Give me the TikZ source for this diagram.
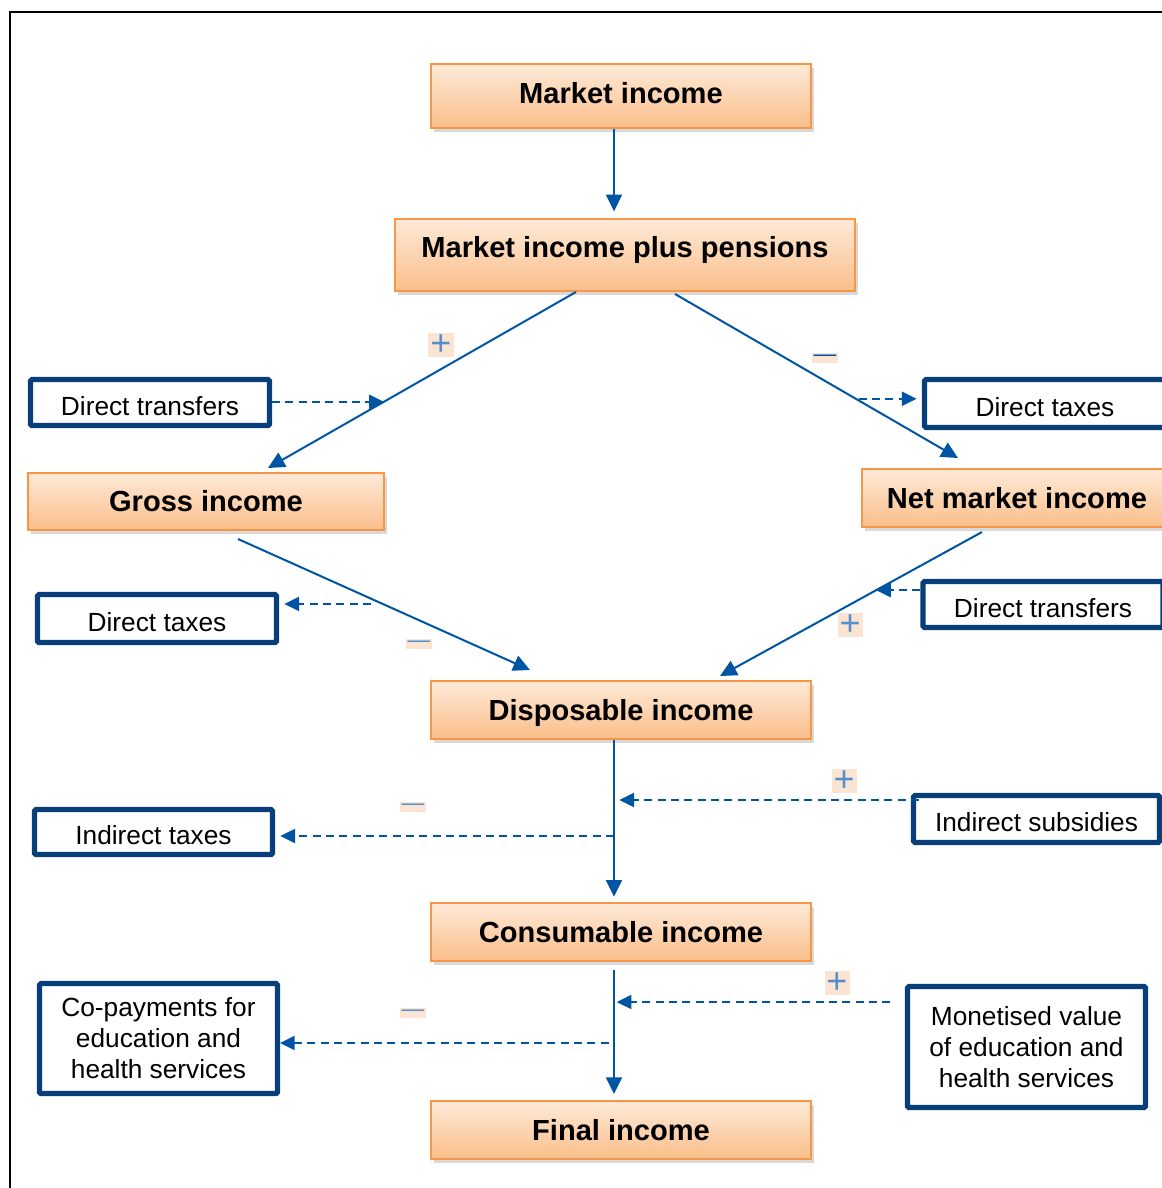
\documentclass[tikz,border=0pt]{standalone}
\usepackage{fontspec}
\setmainfont{Liberation Sans}
\usetikzlibrary{calc,shadows,arrows.meta}
\def\pxu{0.75pt}
\definecolor{flowblue}{RGB}{0,84,164}
\definecolor{boxnavy}{RGB}{8,62,122}
\definecolor{incborder}{RGB}{247,150,70}
\definecolor{inctop}{RGB}{254,234,216}
\definecolor{incbottom}{RGB}{250,190,138}
\definecolor{signbg}{RGB}{252,228,210}
\definecolor{signblue}{RGB}{84,144,208}
\tikzset{
	income/.style={draw=incborder, line width=1.5pt, top color=inctop, bottom color=incbottom,
		drop shadow={opacity=0.3, shadow xshift=2pt, shadow yshift=-3pt},
		font=\fontsize{21.8}{26}\selectfont\bfseries, text height=15.7pt, text depth=0.4pt, inner sep=0pt},
	item/.style={draw=boxnavy, line width=3.8pt, fill=white, rounded corners=1pt,
		font=\fontsize{19.7}{23.25}\selectfont, align=center, inner sep=0pt},
	single/.style={text height=19pt, text depth=0pt},
	flow/.style={draw=flowblue, line width=1.5pt, -{Triangle[length=12.5pt,width=12pt]}},
	effect/.style={draw=flowblue, line width=1.5pt, -{Triangle[length=11pt,width=10.5pt]}, dash pattern=on 6pt off 4pt},
	sign/.style={fill=signbg, text=signblue, inner sep=1.5pt, font=\fontsize{27}{27}\selectfont},
	minus/.style={sign, font=\fontsize{17}{17}\selectfont}
}

\begin{document}
\begin{tikzpicture}[x=\pxu, y=-\pxu]
		%%%%% START %%%%%
		\useasboundingbox (0,0) rectangle (1162,1188);
		\draw[line width=1.7pt] (10,1188) -- (10,12) -- (1162,12);
		\coordinate (axis) at (614,0);
		
		% income stages
		\node[income, minimum width=380*\pxu, minimum height=64*\pxu, text depth=5pt] (mkt) at (621,96) {Market income};
		\node[income, minimum width=460*\pxu, minimum height=72*\pxu, text depth=12.4pt] (mipp) at (625,255) {Market income plus pensions};
		\node[income, minimum width=356*\pxu, minimum height=57*\pxu] (gross) at (206,501.5) {Gross income};
		\node[income, minimum width=310*\pxu, minimum height=58*\pxu] (net) at (1017,498) {Net market income};
		\node[income, minimum width=380*\pxu, minimum height=58*\pxu] (disp) at (621,710) {Disposable income};
		\node[income, minimum width=380*\pxu, minimum height=58*\pxu] (cons) at (621,932) {Consumable income};
		\node[income, minimum width=380*\pxu, minimum height=58*\pxu] (final) at (621,1130) {Final income};
		
		% taxes and benefits
		\node[item, single, minimum width=239*\pxu, minimum height=46*\pxu] (dtrl) at (150,402.5) {Direct transfers};
		\node[item, single, minimum width=241*\pxu, minimum height=48*\pxu] (dtaxr) at (1045,403.5) {Direct taxes};
		\node[item, single, minimum width=239*\pxu, minimum height=48*\pxu] (dtaxl) at (157,618.5) {Direct taxes};
		\node[item, single, minimum width=240*\pxu, minimum height=46*\pxu] (dtrr) at (1043,604.5) {Direct transfers};
		\node[item, single, minimum width=238*\pxu, minimum height=45*\pxu] (indtax) at (153.5,832) {Indirect taxes};
		\node[item, single, minimum width=246*\pxu, minimum height=47*\pxu] (indsub) at (1036.5,819) {Indirect subsidies};
		\node[item, minimum width=238*\pxu, minimum height=110*\pxu] (copay) at (158.5,1038.5) {Co-payments for\\education and\\health services};
		\node[item, minimum width=238*\pxu, minimum height=121*\pxu] (monet) at (1026.5,1047) {Monetised value\\of education and\\health services};
		
		% main flow
		\draw[flow, shorten >=5pt] (mkt.south -| axis) -- (mipp.north -| axis);
		\draw[flow] ($(mipp.south)+(-49,0)$) -- coordinate[pos=0.624] (pdtr) ($(gross.north)+(62,-4)$);
		\draw[flow] ($(mipp.south)+(50,2)$) -- coordinate[pos=0.639] (pdtax) ($(net.north)+(-59,-10)$);
		\draw[flow] ($(gross.south)+(32,8)$) -- coordinate[pos=0.496] (pgt) ($(disp.north)+(-91,-10)$);
		\draw[flow] ($(net.south)+(-35,4)$) -- coordinate[pos=0.404] (pnt) ($(disp.north)+(99,-4)$);
		\draw[flow, shorten >=4pt] (disp.south -| axis) -- (cons.north -| axis);
		\draw[flow, shorten <=6pt, shorten >=4.5pt] (cons.south -| axis) -- (final.north -| axis);
		
		% effects
		\draw[effect] (dtrl.east |- pdtr) -- (pdtr);
		\draw[effect, shorten <=2pt, shorten >=4pt] (pdtax) -- (pdtax -| dtaxr.west);
		\draw[effect, shorten <=9pt, shorten >=4pt] (pgt) -- (pgt -| dtaxl.east);
		\draw[effect] (pnt -| dtrr.west) -- (pnt);
		\coordinate (isub) at ($(indsub.west)+(0,-19)$);
		\draw[effect, shorten <=-6pt, shorten >=4pt] (isub) -- (isub -| axis);
		\coordinate (itax) at ($(indtax.east)+(0,4)$);
		\draw[effect, shorten >=4pt] (itax -| axis) -- (itax);
		\coordinate (mval) at ($(monet.west)+(0,-45)$);
		\draw[effect, shorten <=11pt, shorten >=2pt] (mval) -- (mval -| axis);
		\coordinate (cpay) at ($(copay.east)+(0,4.5)$);
		\draw[effect, shorten <=4pt] (cpay -| axis) -- (cpay);
		
		% signs
		\node[sign] (s1) at (441,345) {+};
		\node[minus, text=flowblue] (s2) at (825,358) {—};
		\node[minus] (s3) at (419,644) {—};
		\node[sign] (s4) at (850,625) {+};
		\node[sign] (s5) at (844,781) {+};
		\node[minus] (s6) at (413,807) {—};
		\node[sign] (s7) at (837,983) {+};
		\node[minus] (s8) at (413,1013) {—};
		%%%%% END %%%%%
	\end{tikzpicture}
\end{document}
